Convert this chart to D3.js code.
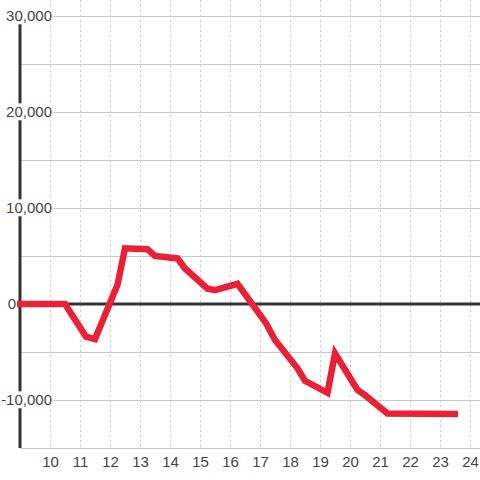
<!DOCTYPE html>
<html>
<head>
<meta charset="utf-8">
<script src="https://cdn.jsdelivr.net/npm/d3@7"></script>
<style>
  html, body { margin: 0; padding: 0; background: #fff; }
  svg { display: block; font-family: "Liberation Sans", Arial, sans-serif; }
</style>
</head>
<body>
<svg id="chart" width="480" height="480"></svg>
<script>
// Data: hour of day vs value
const hours  = [8.9, 10.5, 11.2, 11.5, 12.25, 12.5, 13.25, 13.5, 14.25, 14.5, 15.25, 15.5, 16.25, 17.2, 17.5, 18.25, 18.5, 19.25, 19.5, 20.25, 20.5, 21.25, 23.6];
const values = [0, 0, -3400, -3650, 2000, 5800, 5700, 5000, 4750, 3700, 1600, 1450, 2100, -2000, -3750, -6700, -8000, -9250, -5150, -8950, -9500, -11400, -11450];
const xTicks = [10, 11, 12, 13, 14, 15, 16, 17, 18, 19, 20, 21, 22, 23, 24];
const yLabelTicks = [30000, 20000, 10000, 0, -10000];
const yGridTicks = [30000, 25000, 20000, 15000, 10000, 5000, 0, -5000, -10000, -15000];

const svg = d3.select("#chart");
const W = 480, H = 480;
const x = d3.scaleLinear().domain([9, 24]).range([20, 470]);
const y = d3.scaleLinear().domain([-15000, 30000]).range([448, 16]);
const fmt = d3.formatLocale({decimal: ".", thousands: ",", grouping: [3], currency: ["", ""], minus: "-"}).format(",");

// vertical dashed grid
svg.append("g").selectAll("line").data(xTicks).join("line")
  .attr("x1", d => x(d)).attr("x2", d => x(d))
  .attr("y1", 0).attr("y2", y(-15000))
  .attr("stroke", "#c8c8c8").attr("stroke-width", 1)
  .attr("stroke-dasharray", "2,3")
  .attr("shape-rendering", "crispEdges");

// horizontal grid
svg.append("g").selectAll("line").data(yGridTicks).join("line")
  .attr("x1", 20).attr("x2", W)
  .attr("y1", d => y(d)).attr("y2", d => y(d))
  .attr("stroke", "#c8c8c8").attr("stroke-width", 1)
  .attr("shape-rendering", "crispEdges");

// y axis line
svg.append("line")
  .attr("x1", 20).attr("x2", 20)
  .attr("y1", y(30000)).attr("y2", y(-15000))
  .attr("stroke", "#333").attr("stroke-width", 3);

// zero line
svg.append("line")
  .attr("x1", 20).attr("x2", W)
  .attr("y1", y(0)).attr("y2", y(0))
  .attr("stroke", "#333").attr("stroke-width", 3);

// y labels via axis
const yAxis = d3.axisLeft(y).tickValues(yLabelTicks).tickFormat(fmt).tickSize(0).tickPadding(0);
const gy = svg.append("g").attr("transform", "translate(52,0)").call(yAxis);
gy.select(".domain").remove();
gy.selectAll(".tick text")
  .attr("font-size", 15).attr("fill", "#444")
  .attr("font-family", "Liberation Sans, Arial, sans-serif")
  .attr("x", d => d === 0 ? -36 : 0);
gy.selectAll(".tick").each(function(d) {
  const t = d3.select(this).select("text");
  const bb = t.node().getBBox();
  d3.select(this).insert("rect", "text")
    .attr("x", bb.x - 1).attr("y", bb.y).attr("width", bb.width + 2).attr("height", bb.height)
    .attr("fill", "#fff");
});

// x labels via axis
const xAxis = d3.axisBottom(x).tickValues(xTicks).tickFormat(d3.format("d")).tickSize(0).tickPadding(8);
const gx = svg.append("g").attr("transform", `translate(0,${y(-15000)})`).call(xAxis);
gx.select(".domain").remove();
gx.selectAll(".tick text")
  .attr("font-size", 15).attr("fill", "#444")
  .attr("font-family", "Liberation Sans, Arial, sans-serif");

// red line
const line = d3.line().x(d => x(d[0])).y(d => y(d[1]));
svg.append("path")
  .datum(hours.map((h, i) => [h, values[i]]))
  .attr("d", line)
  .attr("fill", "none")
  .attr("stroke", "#ea2035")
  .attr("stroke-width", 6.5)
  .attr("stroke-linejoin", "miter");
</script>
</body>
</html>
